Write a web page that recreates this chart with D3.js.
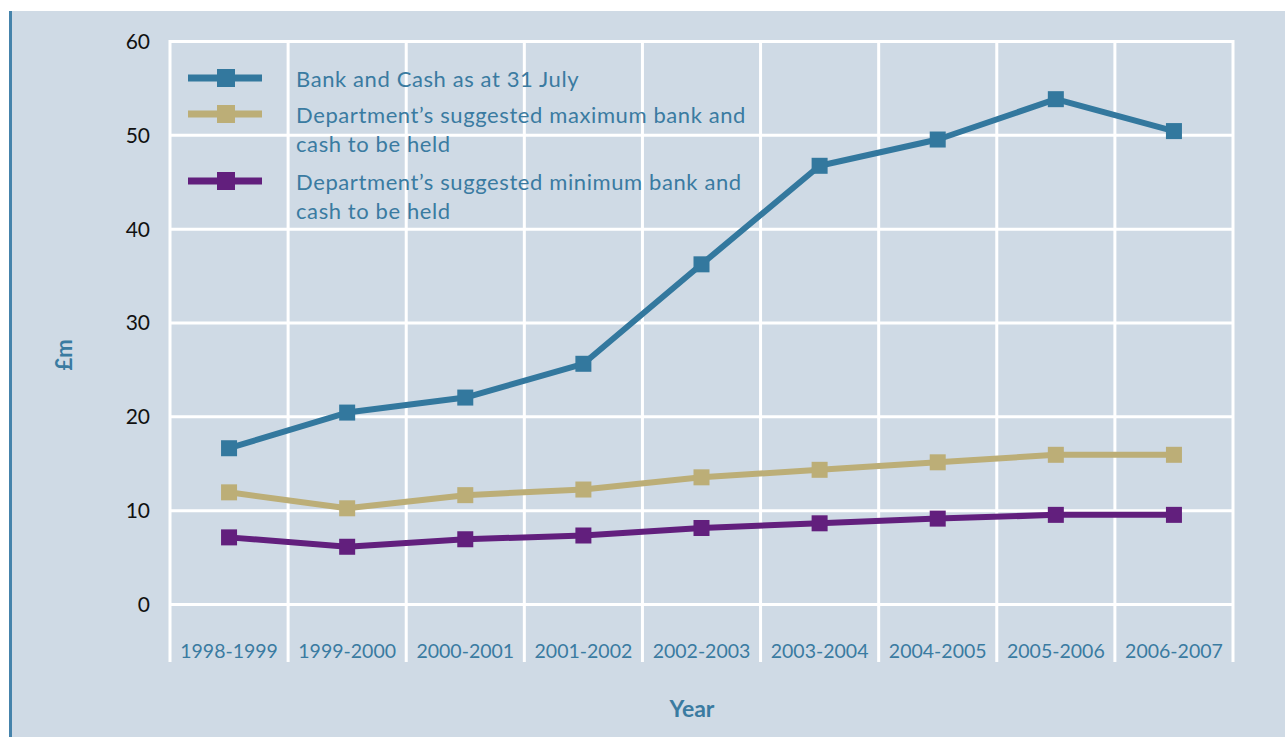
<!DOCTYPE html>
<html>
<head>
<meta charset="utf-8">
<script src="https://cdn.jsdelivr.net/npm/d3@7"></script>
<style>
  body { margin: 0; background: #fff; }
  svg { display: block; font-family: Lato, "Open Sans", sans-serif; }
</style>
</head>
<body>
<script>
// -------- data --------
let years = ["1998-1999", "1999-2000", "2000-2001", "2001-2002", "2002-2003",
             "2003-2004", "2004-2005", "2005-2006", "2006-2007"];
let bankCash = [16.6, 20.4, 22.0, 25.6, 36.2, 46.7, 49.5, 53.8, 50.4];
let maxHeld  = [11.9, 10.2, 11.6, 12.2, 13.5, 14.3, 15.1, 15.9, 15.9];
let minHeld  = [7.1, 6.1, 6.9, 7.3, 8.1, 8.6, 9.1, 9.5, 9.5];
let yTicks   = [0, 10, 20, 30, 40, 50, 60];

let seriesNames = ["Bank and Cash as at 31 July",
                   "Department\u2019s suggested maximum bank and|cash to be held",
                   "Department\u2019s suggested minimum bank and|cash to be held"];
let seriesColors = ["#33789e", "#bcae77", "#621f7d"];
let seriesData = [bankCash, maxHeld, minHeld];

let W = 1285, H = 737;
let plotL = 170, plotR = 1233, plotT = 41, plotB = 604;
let textBlue = "#3a7ba1";

let svg = d3.select("body").append("svg")
    .attr("width", W)
    .attr("height", H);

// background panel
svg.append("rect").attr("x", 0).attr("y", 0).attr("width", W).attr("height", H).attr("fill", "#fff");
svg.append("rect").attr("x", 10).attr("y", 11).attr("width", W - 10).attr("height", H - 11).attr("fill", "#cfdae5");
svg.append("rect").attr("x", 9).attr("y", 11).attr("width", 3).attr("height", H - 11).attr("fill", "#4583ab");

let x = d3.scaleBand().domain(years).range([plotL, plotR]).padding(0);
let y = d3.scaleLinear().domain([0, 60]).range([plotB, plotT]);

// horizontal gridlines + y labels
let yAxis = svg.append("g")
    .attr("transform", `translate(${plotL},0)`)
    .call(d3.axisLeft(y).tickValues(yTicks).tickSize(-(plotR - plotL)).tickPadding(20));
yAxis.select(".domain").remove();
yAxis.selectAll("line").attr("stroke", "#fff").attr("stroke-width", 3);
yAxis.selectAll("text")
    .attr("font-size", 21)
    .attr("font-family", "Lato, sans-serif")
    .attr("fill", "#111")
    .attr("dy", "0.35em");

// vertical gridlines at category boundaries
let bounds = years.map(d => x(d)).concat([x(years[years.length - 1]) + x.bandwidth()]);
svg.append("g").selectAll("line")
    .data(bounds)
    .enter()
    .append("line")
        .attr("x1", d => d)
        .attr("x2", d => d)
        .attr("y1", plotT - 1)
        .attr("y2", 662)
        .attr("stroke", "#fff")
        .attr("stroke-width", 3);

// x labels
let xAxis = svg.append("g")
    .attr("transform", `translate(0,${plotB})`)
    .call(d3.axisBottom(x).tickSize(0).tickPadding(40));
xAxis.select(".domain").remove();
xAxis.selectAll("text")
    .attr("font-size", 19.5)
    .attr("font-family", "Lato, sans-serif")
    .attr("fill", textBlue);

// axis titles
svg.append("text")
    .text("\u00a3m")
    .attr("transform", "translate(72,355) rotate(-90)")
    .attr("text-anchor", "middle")
    .attr("font-size", 22)
    .attr("font-weight", "bold")
    .attr("fill", textBlue);
svg.append("text")
    .text("Year")
    .attr("x", 692)
    .attr("y", 717)
    .attr("text-anchor", "middle")
    .attr("font-size", 23)
    .attr("font-weight", "bold")
    .attr("fill", textBlue);

// lines and markers
let cx = d => x(d) + x.bandwidth() / 2;
seriesData.forEach((vals, k) => {
    let pts = vals.map((v, i) => [cx(years[i]), y(v)]);
    svg.append("path")
        .attr("d", d3.line()(pts))
        .attr("fill", "none")
        .attr("stroke", seriesColors[k])
        .attr("stroke-width", 6)
        .attr("stroke-linejoin", "round");
    svg.append("g").selectAll("rect")
        .data(pts)
        .enter()
        .append("rect")
            .attr("x", d => d[0] - 8)
            .attr("y", d => d[1] - 8)
            .attr("width", 16)
            .attr("height", 16)
            .attr("fill", seriesColors[k]);
});

// legend
let legendY = [78, 114, 181];
let legend = svg.append("g");
seriesNames.forEach((name, k) => {
    let g = legend.append("g").attr("transform", `translate(0,${legendY[k]})`);
    g.append("line")
        .attr("x1", 188).attr("x2", 262)
        .attr("stroke", seriesColors[k])
        .attr("stroke-width", 7);
    g.append("rect")
        .attr("x", 217).attr("y", -9)
        .attr("width", 18).attr("height", 18)
        .attr("fill", seriesColors[k]);
    name.split("|").forEach((line, j) => {
        g.append("text")
            .text(line)
            .attr("x", 296)
            .attr("y", 9 + j * 29)
            .attr("font-size", 22)
            .attr("letter-spacing", 0.6)
            .attr("fill", textBlue);
    });
});
</script>
</body>
</html>
